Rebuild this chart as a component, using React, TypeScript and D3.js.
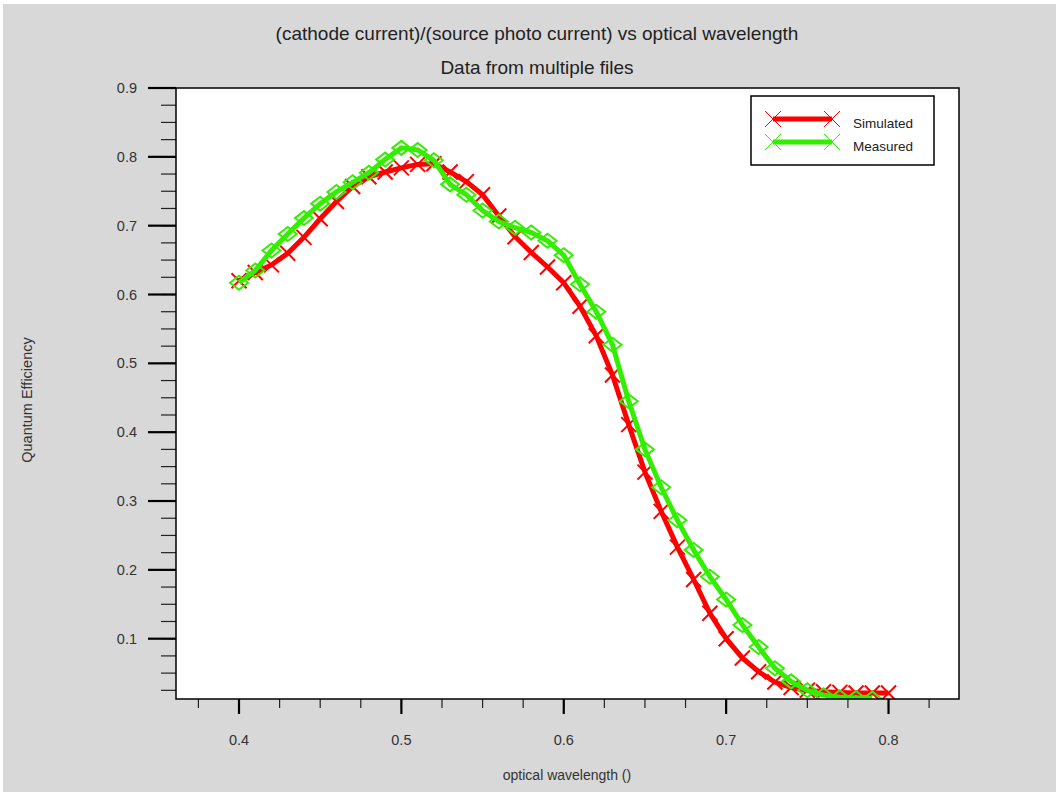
import React from "react";
import * as d3 from "d3";

const width = 1059;
const height = 795;
const plot = { left: 176, right: 959, top: 88, bottom: 699 };

const wavelength = [
  0.4, 0.41, 0.42, 0.43, 0.44, 0.45, 0.46, 0.47, 0.48, 0.49,
  0.5, 0.51, 0.52, 0.53, 0.54, 0.55, 0.56, 0.57, 0.58, 0.59,
  0.6, 0.61, 0.62, 0.63, 0.64, 0.65, 0.66, 0.67, 0.68, 0.69,
  0.7, 0.71, 0.72, 0.73, 0.74, 0.75, 0.76, 0.77, 0.78, 0.79, 0.8,
];

const simulated = [
  0.62, 0.632, 0.643, 0.66, 0.683, 0.71, 0.735, 0.757, 0.771, 0.778,
  0.784, 0.789, 0.79, 0.778, 0.764, 0.745, 0.714, 0.684, 0.661, 0.64,
  0.617, 0.583, 0.54, 0.483, 0.411, 0.342, 0.285, 0.233, 0.186, 0.137,
  0.1, 0.072, 0.052, 0.037, 0.029, 0.025, 0.023, 0.022, 0.021, 0.021, 0.021,
];

const measured = [
  0.617, 0.635, 0.664, 0.688, 0.711, 0.732, 0.749, 0.763, 0.777, 0.796,
  0.813, 0.81, 0.795, 0.76, 0.745, 0.722, 0.706, 0.697, 0.69, 0.678,
  0.657, 0.615, 0.575, 0.527, 0.445, 0.375, 0.32, 0.272, 0.229, 0.19,
  0.157, 0.12, 0.088, 0.057, 0.038, 0.025, 0.018, 0.015, 0.014, 0.013,
];

const xTickLabels = ["0.4", "0.5", "0.6", "0.7", "0.8"];
const yTickLabels = ["0.1", "0.2", "0.3", "0.4", "0.5", "0.6", "0.7", "0.8", "0.9"];

const title = "(cathode current)/(source photo current) vs optical wavelength";
const subtitle = "Data from multiple files";
const xTitle = "optical wavelength ()";
const yTitle = "Quantum Efficiency";
const seriesNames = ["Simulated", "Measured"];

const font = "'Liberation Sans', Arial, sans-serif";

function Cross({ x, y, r, color, w }) {
  return (
    <g stroke={color} strokeWidth={w}>
      <line x1={x - r} y1={y - r} x2={x + r} y2={y + r} />
      <line x1={x - r} y1={y + r} x2={x + r} y2={y - r} />
    </g>
  );
}

export default function App() {
  const xScale = d3.scaleLinear().domain([0.3612, 0.8434]).range([plot.left, plot.right]);
  const yScale = d3.scaleLinear().domain([0.0124, 0.9]).range([plot.bottom, plot.top]);

  const line = d3
    .line<number>()
    .x((d, i) => xScale(wavelength[i]))
    .y(d => yScale(d));

  const xMinor = d3.range(0.375, 0.83, 0.025);
  const yMinor = d3.range(0.025, 0.9, 0.025);

  const legend = { x: 751, y: 96, w: 183, h: 69 };

  return (
    <div style={{ position: "absolute", left: 0, top: 0 }}>
      <svg width={width} height={height} style={{ display: "block" }}>
        <rect x={0} y={0} width={width} height={height} fill="#ffffff" />
        <rect x={3} y={4} width={1053} height={788} fill="#d8d8d8" />
        <rect
          x={plot.left}
          y={plot.top}
          width={plot.right - plot.left}
          height={plot.bottom - plot.top}
          fill="#ffffff"
        />
        <text x={537} y={40} textAnchor="middle" fontFamily={font} fontSize={19} fill="#222">
          {title}
        </text>
        <text x={537} y={74} textAnchor="middle" fontFamily={font} fontSize={19} fill="#222">
          {subtitle}
        </text>

        {/* y ticks */}
        {yMinor.map((v, i) => (
          <line
            key={"ym" + i}
            x1={plot.left - 15}
            x2={plot.left}
            y1={yScale(v)}
            y2={yScale(v)}
            stroke="#222"
            strokeWidth={1.2}
          />
        ))}
        {yTickLabels.map(t => (
          <g key={"y" + t}>
            <line
              x1={plot.left - 28}
              x2={plot.left}
              y1={yScale(+t)}
              y2={yScale(+t)}
              stroke="#000"
              strokeWidth={2.2}
            />
            <text
              x={137}
              y={yScale(+t) + 5}
              textAnchor="end"
              fontFamily={font}
              fontSize={14.5}
              fill="#333"
            >
              {t}
            </text>
          </g>
        ))}

        {/* x ticks */}
        {xMinor.map((v, i) => (
          <line
            key={"xm" + i}
            x1={xScale(v)}
            x2={xScale(v)}
            y1={plot.bottom}
            y2={plot.bottom + 9}
            stroke="#222"
            strokeWidth={1.2}
          />
        ))}
        {xTickLabels.map(t => (
          <g key={"x" + t}>
            <line
              x1={xScale(+t)}
              x2={xScale(+t)}
              y1={plot.bottom}
              y2={plot.bottom + 15}
              stroke="#000"
              strokeWidth={2.2}
            />
            <text
              x={xScale(+t)}
              y={745}
              textAnchor="middle"
              fontFamily={font}
              fontSize={14.5}
              fill="#333"
            >
              {t}
            </text>
          </g>
        ))}

        <text x={567} y={780} textAnchor="middle" fontFamily={font} fontSize={14} fill="#333">
          {xTitle}
        </text>
        <text
          transform="translate(32,400) rotate(-90)"
          textAnchor="middle"
          fontFamily={font}
          fontSize={14.5}
          fill="#333"
        >
          {yTitle}
        </text>

        <defs>
          <clipPath id="plotClip">
            <rect
              x={plot.left}
              y={plot.top}
              width={plot.right - plot.left}
              height={plot.bottom - plot.top}
            />
          </clipPath>
        </defs>

        <g clipPath="url(#plotClip)">
          <path d={line(simulated) || ""} fill="none" stroke="#ff0000" strokeWidth={5} />
          {simulated.map((d, i) => (
            <Cross key={"s" + i} x={xScale(wavelength[i])} y={yScale(d)} r={7.5} color="#ff0000" w={2} />
          ))}
          <path d={line(measured) || ""} fill="none" stroke="#33ee00" strokeWidth={5} />
          {measured.map((d, i) => {
            const cx = xScale(wavelength[i]);
            const cy = yScale(d);
            return (
              <path
                key={"m" + i}
                d={`M${cx - 9},${cy} L${cx},${cy - 7} L${cx + 9},${cy} L${cx},${cy + 7} Z`}
                fill="none"
                stroke="#33ee00"
                strokeWidth={2}
              />
            );
          })}
        </g>

        <rect
          x={plot.left}
          y={plot.top}
          width={plot.right - plot.left}
          height={plot.bottom - plot.top}
          fill="none"
          stroke="#000"
          strokeWidth={1.5}
        />

        {/* legend */}
        <rect
          x={legend.x}
          y={legend.y}
          width={legend.w}
          height={legend.h}
          fill="#ffffff"
          stroke="#000"
          strokeWidth={1.5}
        />
        {seriesNames.map((name, i) => {
          const color = i === 0 ? "#ff0000" : "#33ee00";
          const ly = 119 + i * 23;
          return (
            <g key={name}>
              <line x1={773} x2={832} y1={ly} y2={ly} stroke={color} strokeWidth={5} />
              <Cross x={773} y={ly} r={8} color={color} w={1} />
              <Cross x={832} y={ly} r={8} color={color} w={1} />
              <text x={853} y={ly + 9} fontFamily={font} fontSize={13.5} fill="#222">
                {name}
              </text>
            </g>
          );
        })}
      </svg>
    </div>
  );
}
